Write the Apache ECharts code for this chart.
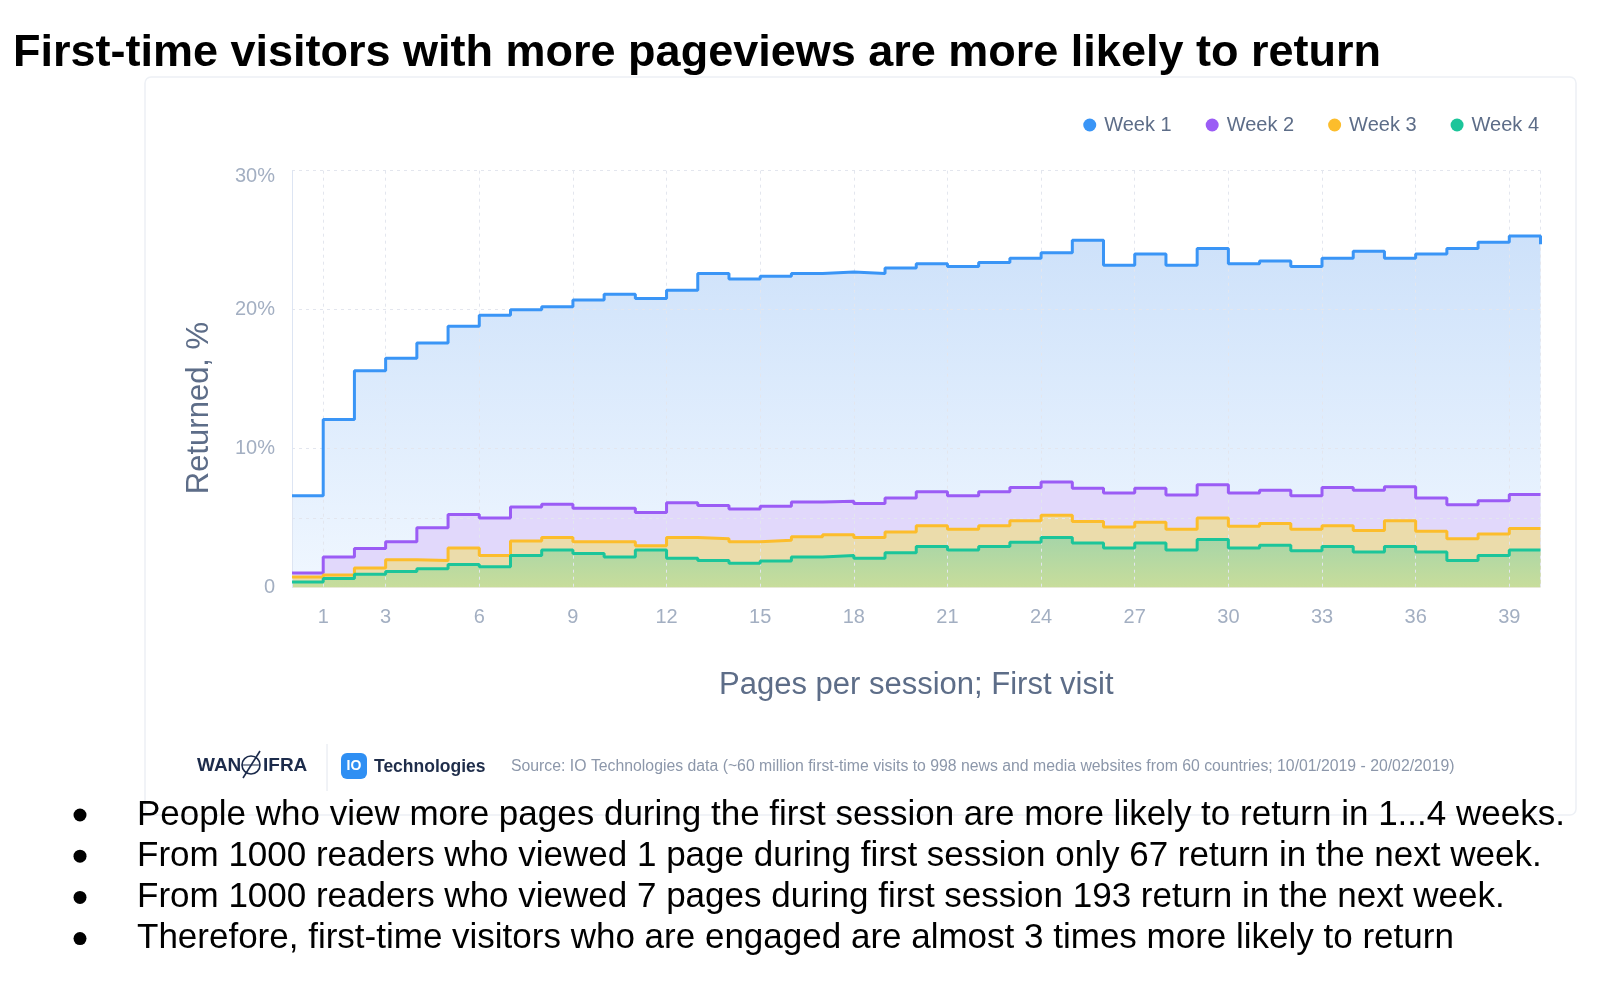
<!DOCTYPE html>
<html lang="en">
<head>
    <meta charset="UTF-8">
    <title>First-time visitors with more pageviews are more likely to return</title>
    <script src="https://cdn.jsdelivr.net/npm/echarts@6/dist/echarts.min.js"></script>
    <style>
        html, body { margin: 0; padding: 0; background: #fff; }
        #chart { width: 1600px; height: 982px; }
    </style>
</head>
<body>
<div id="chart"></div>
<script>
    'use strict';
    // pages per session (first visit), one step per page
    const pages = [0, 1, 2, 3, 4, 5, 6, 7, 8, 9, 10, 11, 12, 13, 14, 15, 16, 17, 18, 19, 20,
        21, 22, 23, 24, 25, 26, 27, 28, 29, 30, 31, 32, 33, 34, 35, 36, 37, 38, 39, 40];
    const labeledPages = [1, 3, 6, 9, 12, 15, 18, 21, 24, 27, 30, 33, 36, 39];
    const gridPages = [1, 3, 6, 9, 12, 15, 18, 21, 24, 27, 30, 33, 36, 39, 40];
    const yLabels = [0, 10, 20, 30];
    const yGuides = [5, 10, 20, 30];

    // returned, %
    const week1 = [6.6, 12.1, 15.6, 16.5, 17.6, 18.8, 19.6, 20.0, 20.2, 20.7,
        21.1, 20.8, 21.4, 22.6, 22.2, 22.4, 22.6, 22.7, 22.6, 23.0,
        23.3, 23.1, 23.4, 23.7, 24.1, 25.0, 23.2, 24.0, 23.2, 24.4,
        23.3, 23.5, 23.1, 23.7, 24.2, 23.7, 24.0, 24.4, 24.85, 25.3, 24.7];
    const week2 = [1.05, 2.2, 2.8, 3.3, 4.3, 5.25, 5.0, 5.8, 6.0, 5.7,
        5.7, 5.4, 6.1, 5.9, 5.65, 5.85, 6.15, 6.2, 6.05, 6.45,
        6.9, 6.6, 6.9, 7.2, 7.6, 7.15, 6.8, 7.15, 6.65, 7.4,
        6.8, 7.0, 6.6, 7.2, 7.0, 7.25, 6.45, 5.95, 6.25, 6.7, 6.7];
    const week3 = [0.75, 0.9, 1.4, 2.0, 1.95, 2.85, 2.3, 3.35, 3.6, 3.3,
        3.3, 3.0, 3.6, 3.5, 3.3, 3.4, 3.65, 3.8, 3.6, 4.0,
        4.45, 4.2, 4.45, 4.8, 5.2, 4.75, 4.35, 4.7, 4.2, 5.0,
        4.4, 4.6, 4.2, 4.45, 4.1, 4.8, 4.05, 3.5, 3.85, 4.25, 4.25];
    const week4 = [0.4, 0.65, 0.95, 1.15, 1.35, 1.65, 1.5, 2.3, 2.7, 2.45,
        2.2, 2.7, 2.1, 1.95, 1.75, 1.9, 2.2, 2.3, 2.1, 2.5,
        2.95, 2.7, 2.95, 3.25, 3.6, 3.2, 2.85, 3.2, 2.7, 3.45,
        2.85, 3.05, 2.65, 2.95, 2.55, 2.95, 2.55, 1.95, 2.3, 2.7, 2.7];

    const seriesNames = ['Week 1', 'Week 2', 'Week 3', 'Week 4'];
    const bullets = [
        'People who view more pages during the first session are more likely to return in 1...4 weeks.',
        'From 1000 readers who viewed 1 page during first session only 67 return in the next week.',
        'From 1000 readers who viewed 7 pages during first session 193 return in the next week.',
        'Therefore, first-time visitors who are engaged are almost 3 times more likely to return'
    ];
    const sourceText = 'Source: IO Technologies data (~60 million first-time visits to 998 news and media websites from 60 countries; 10/01/2019 - 20/02/2019)';

    const FONT = '"Liberation Sans", Arial, sans-serif';
    const gridColor = '#e3e6ee';

    function grad(top, bottom) {
        return new echarts.graphic.LinearGradient(0, 0, 0, 1, [
            {offset: 0, color: top},
            {offset: 1, color: bottom}
        ]);
    }

    // areas sit under the grid lines, the step lines above them
    function areaSeries(name, data, color, fill) {
        return {
            name: name, type: 'line', step: 'end', data: data, symbol: 'none', z: 1,
            itemStyle: {color: color},
            lineStyle: {opacity: 0, width: 0},
            areaStyle: {color: fill, opacity: 1},
            emphasis: {disabled: true}, silent: true, animation: false
        };
    }
    function lineSeries(name, data, color) {
        return {
            name: name, type: 'line', step: 'end', data: data, symbol: 'none', z: 3,
            itemStyle: {color: color},
            lineStyle: {color: color, width: 3},
            emphasis: {disabled: true}, animation: false
        };
    }

    let graphics = [
        // panel frame
        {type: 'rect', shape: {x: 145, y: 77, width: 1431, height: 738, r: 6}, silent: true,
            style: {fill: 'none', stroke: '#edf0f5', lineWidth: 1.5}, z: -1},
        {type: 'text', x: 13, y: 54, style: {text: 'First-time visitors with more pageviews are more likely to return',
            font: 'bold 45px ' + FONT, fill: '#000', verticalAlign: 'middle'}},
        {type: 'text', x: 199, y: 408, rotation: Math.PI / 2, style: {text: 'Returned, %',
            font: '31px ' + FONT, fill: '#5d6d88', align: 'center', verticalAlign: 'middle'}},
        // footer logos
        {type: 'text', x: 197, y: 766, style: {text: 'WAN', font: 'bold 19px "Liberation Sans Narrow", ' + FONT,
            fill: '#1c2b4b', verticalAlign: 'middle'}},
        {type: 'circle', shape: {cx: 251, cy: 765, r: 9}, style: {fill: 'none', stroke: '#1c2b4b', lineWidth: 1.6}},
        {type: 'line', shape: {x1: 243, y1: 778, x2: 260, y2: 751}, style: {stroke: '#1c2b4b', lineWidth: 1.6}},
        {type: 'line', shape: {x1: 242, y1: 765, x2: 260, y2: 765}, style: {stroke: '#1c2b4b', lineWidth: 1}},
        {type: 'text', x: 263, y: 766, style: {text: 'IFRA', font: 'bold 19px "Liberation Sans Narrow", ' + FONT,
            fill: '#1c2b4b', verticalAlign: 'middle'}},
        {type: 'line', shape: {x1: 327, y1: 744, x2: 327, y2: 791}, style: {stroke: '#e2e6ee', lineWidth: 1}},
        {type: 'rect', shape: {x: 341, y: 753, width: 26, height: 26, r: 6}, style: {fill: '#2f8ff3'}},
        {type: 'text', x: 354, y: 766, style: {text: 'IO', font: 'bold 14px ' + FONT, fill: '#fff',
            align: 'center', verticalAlign: 'middle'}},
        {type: 'text', x: 374, y: 767, style: {text: 'Technologies', font: 'bold 17.5px ' + FONT,
            fill: '#1f2d4a', verticalAlign: 'middle'}},
        {type: 'text', x: 511, y: 767, style: {text: sourceText, font: '15.8px ' + FONT,
            fill: '#8c97aa', verticalAlign: 'middle'}}
    ];
    bullets.forEach(function (line, i) {
        let y = 815 + i * 41.2;
        graphics.push({type: 'circle', shape: {cx: 80, cy: y, r: 6.5}, style: {fill: '#000'}});
        graphics.push({type: 'text', x: 137, y: y, style: {text: line, font: '35px ' + FONT,
            fill: '#000', verticalAlign: 'middle'}});
    });

    let option = {
        backgroundColor: '#fff',
        textStyle: {fontFamily: FONT},
        legend: {
            data: seriesNames,
            right: 56,
            top: 110,
            icon: 'circle',
            itemWidth: 13,
            itemHeight: 13,
            itemGap: 34,
            textStyle: {fontSize: 20, color: '#5d6d88', padding: [0, 0, 0, 3]}
        },
        grid: {left: 292, right: 59.5, top: 170.7, bottom: 394.5},
        xAxis: {
            type: 'category',
            z: 2,
            data: pages,
            boundaryGap: false,
            name: 'Pages per session; First visit',
            nameLocation: 'middle',
            nameGap: 82,
            nameTextStyle: {fontSize: 31, color: '#5d6d88'},
            axisLine: {show: false},
            axisTick: {show: false},
            axisLabel: {
                interval: function (idx, val) { return labeledPages.indexOf(Number(val)) >= 0; },
                fontSize: 20,
                color: '#a3afc2',
                margin: 20
            },
            splitLine: {
                show: true,
                interval: function (idx, val) { return gridPages.indexOf(Number(val)) >= 0; },
                lineStyle: {color: gridColor, type: [3, 4], width: 1}
            }
        },
        yAxis: {
            type: 'value',
            z: 2,
            min: 0,
            max: 30,
            interval: 5,
            axisLine: {show: true, lineStyle: {color: '#dde5f3', width: 1}},
            axisTick: {show: false},
            axisLabel: {
                fontSize: 20,
                color: '#a3afc2',
                margin: 17,
                rich: {low: {fontSize: 20, color: '#a3afc2', padding: [12, 0, 0, 0]}},
                formatter: function (v) {
                    if (yLabels.indexOf(v) < 0) return '';
                    if (v === 30) return '{low|30%}';
                    return v === 0 ? '0' : v + '%';
                }
            },
            splitLine: {
                lineStyle: {
                    color: [0, 5, 10, 15, 20, 25, 30].map(function (v) {
                        return yGuides.indexOf(v) >= 0 ? gridColor : 'rgba(0,0,0,0)';
                    }),
                    type: [3, 4],
                    width: 1
                }
            }
        },
        series: [
            areaSeries(seriesNames[0], week1, '#3a95f6', grad('#cde1fa', '#f0f7ff')),
            areaSeries(seriesNames[1], week2, '#9b5cf5', '#e1d8fb'),
            areaSeries(seriesNames[2], week3, '#fcbd2c', '#ebdcab'),
            areaSeries(seriesNames[3], week4, '#1cc59a', grad('#a6d5a8', '#c8dd9b')),
            lineSeries(seriesNames[0], week1, '#3a95f6'),
            lineSeries(seriesNames[1], week2, '#9b5cf5'),
            lineSeries(seriesNames[2], week3, '#fcbd2c'),
            lineSeries(seriesNames[3], week4, '#1cc59a')
        ],
        graphic: graphics
    };

    let myChart = echarts.init(document.getElementById('chart'));
    myChart.setOption(option);
</script>
</body>
</html>
